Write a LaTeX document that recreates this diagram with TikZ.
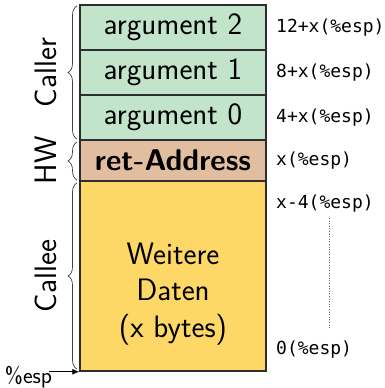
\documentclass[tikz,border=0pt]{standalone}
\usepackage{fontspec}
\newfontfamily\monofont{DejaVu Sans Mono}
\usetikzlibrary{decorations.pathreplacing,arrows.meta}
\definecolor{cgreen}{RGB}{194,228,203}
\definecolor{ctan}{RGB}{226,190,160}
\definecolor{cyellow}{RGB}{254,216,102}
\definecolor{cborder}{RGB}{45,45,45}
\begin{document}
\begin{tikzpicture}[x=1pt,y=1pt,
  cell/.style={draw=cborder,line width=1.5pt,minimum width=186pt,inner sep=0pt,
     font=\sffamily\fontsize{31}{36.5}\selectfont,align=center},
  addr/.style={anchor=west,inner sep=0pt,font=\monofont\fontsize{18}{20}\selectfont},
  side/.style={rotate=90,inner sep=0pt,font=\sffamily\fontsize{31}{36}\selectfont},
  brc/.style={decorate,decoration={brace,amplitude=9pt},line width=0.7pt,draw=black!75}]
\useasboundingbox (0,0) rectangle (384,-388);
\node[cell,fill=cgreen,minimum height=45pt] (a2) at (173,-27.5) {argument 2};
\node[cell,fill=cgreen,minimum height=45pt] (a1) at (173,-72.5) {argument 1};
\node[cell,fill=cgreen,minimum height=45pt] (a0) at (173,-117.5) {argument 0};
\node[cell,fill=ctan,minimum height=41pt,font=\sffamily\bfseries\fontsize{30}{36}\selectfont] (ret) at (173,-160.5) {ret-Address};
\node[cell,fill=cyellow,minimum height=190pt] (callee) at (173,-276) {};
\node[inner sep=0pt,align=center,font=\sffamily\fontsize{31}{36.5}\selectfont] (calleetext) at (173,-294) {Weitere\\Daten\\(x bytes)};
% address labels
\node[addr] (l12) at (276,-27.5) {12+x(\%esp)};
\node[addr] (l8) at (276,-72.5) {8+x(\%esp)};
\node[addr] (l4) at (276,-117.5) {4+x(\%esp)};
\node[addr] (lx) at (276,-160.5) {x(\%esp)};
\node[addr] (lxm4) at (276,-204) {x-4(\%esp)};
\node[addr] (l0) at (276,-350) {0(\%esp)};
\coordinate (dtop) at (329,-218);
\coordinate (dbot) at (329,-328);
\draw[dotted,line width=0.6pt,black!60] (dtop) -- (dbot);
% braces
\coordinate (cb1) at (77,-139);
\coordinate (cb2) at (77,-6);
\coordinate (hb1) at (77,-180);
\coordinate (hb2) at (77,-142);
\coordinate (eb1) at (77,-369);
\coordinate (eb2) at (77,-183);
\draw[brc] (cb1) -- (cb2);
\draw[brc] (hb1) -- (hb2);
\draw[brc] (eb1) -- (eb2);
\node[side] (caller) at (46,-72.5) {Caller};
\node[side] (hw) at (46,-160.5) {HW};
\node[side] (cal) at (46,-276) {Callee};
% esp pointer
\node[inner sep=0pt,font=\sffamily\fontsize{23}{26}\selectfont] (esp) at (28.5,-377) {\%esp};
\draw[line width=0.8pt,-{Latex[length=7pt,width=6pt]}] ([xshift=-3pt]esp.east |- callee.south west) -- (callee.south west);
\end{tikzpicture}
\end{document}
